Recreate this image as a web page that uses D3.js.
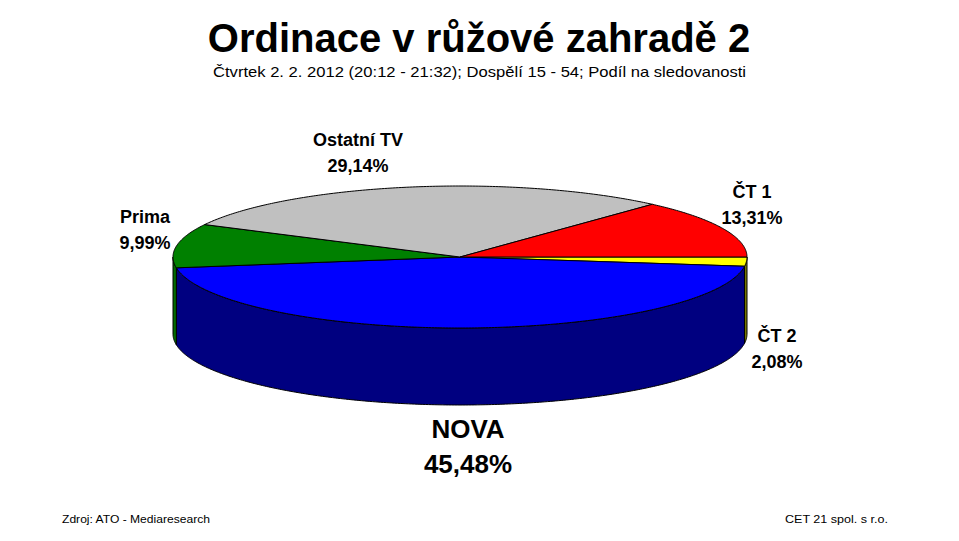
<!DOCTYPE html>
<html>
<head>
<meta charset="utf-8">
<script src="https://cdn.jsdelivr.net/npm/d3@7"></script>
<style>
  body { margin: 0; background: #fff; }
  text { font-family: "Liberation Sans", Arial, sans-serif; fill: #000; }
</style>
</head>
<body>
<div id="canvas"></div>
<script>
// data
const channels = ["ČT 2", "NOVA", "Prima", "Ostatní TV", "ČT 1"];
const shares = [2.08, 45.48, 9.99, 29.14, 13.31];
const shareLabels = ["2,08%", "45,48%", "9,99%", "29,14%", "13,31%"];

const title = "Ordinace v růžové zahradě 2";
const subtitle = "Čtvrtek 2. 2. 2012 (20:12 - 21:32); Dospělí 15 - 54; Podíl na sledovanosti";
const source = "Zdroj: ATO - Mediaresearch";
const owner = "CET 21 spol. s r.o.";

const width = 959;
const height = 541;

// pie geometry (ellipse = tilted circle)
const cx = 460, cy = 257, rx = 287, ry = 71, depth = 77;

const topColor = d3.scaleOrdinal()
    .domain(channels)
    .range(["#ffff00", "#0000ff", "#008000", "#c0c0c0", "#ff0000"]);
const sideColor = d3.scaleOrdinal()
    .domain(channels)
    .range(["#808000", "#000080", "#006a00", "#808080", "#800000"]);

// label anchors (text centre x, first baseline y, font size, line gap)
const labelAt = {
    "ČT 2": [777, 342, 18, 26],
    "NOVA": [468, 438, 26, 35],
    "Prima": [145, 223, 18, 26],
    "Ostatní TV": [358, 146, 18, 26],
    "ČT 1": [752, 198, 18, 26]
};

const svg = d3.select("#canvas").append("svg")
    .attr("width", width)
    .attr("height", height);

const data = channels.map((c, i) => ({ name: c, value: shares[i], label: shareLabels[i] }));

// start at 3 o'clock, go clockwise
const pie = d3.pie()
    .sort(null)
    .value(d => d.value)
    .startAngle(Math.PI / 2)
    .endAngle(Math.PI / 2 + 2 * Math.PI);
const arcs = pie(data);

const px = t => cx + rx * Math.cos(t);
const py = t => cy + ry * Math.sin(t);

function angles(t0, t1) {
    const step = 0.01;
    const a = d3.range(t0, t1, step);
    a.push(t1);
    return a;
}

const line = d3.line();

function topPath(d) {
    const t0 = d.startAngle - Math.PI / 2, t1 = d.endAngle - Math.PI / 2;
    const pts = [[cx, cy]].concat(angles(t0, t1).map(t => [px(t), py(t)]));
    return line(pts) + "Z";
}

// visible front wall: screen angles between 0 and PI (mod 2PI)
function sidePath(d) {
    let t0 = d.startAngle - Math.PI / 2, t1 = d.endAngle - Math.PI / 2;
    const parts = [];
    [[0, Math.PI], [2 * Math.PI, 3 * Math.PI]].forEach(([lo, hi]) => {
        const a = Math.max(t0, lo), b = Math.min(t1, hi);
        if (b > a) {
            const top = angles(a, b).map(t => [px(t), py(t)]);
            const bot = angles(a, b).reverse().map(t => [px(t), py(t) + depth]);
            parts.push(line(top.concat(bot)) + "Z");
        }
    });
    return parts.join("");
}

const g = svg.append("g");

g.selectAll("path.side")
    .data(arcs)
    .enter().append("path")
    .attr("class", "side")
    .attr("d", sidePath)
    .attr("fill", d => sideColor(d.data.name))
    .attr("stroke", "#000")
    .attr("stroke-width", 1)
    .attr("stroke-linejoin", "round");

g.selectAll("path.top")
    .data(arcs)
    .enter().append("path")
    .attr("class", "top")
    .attr("d", topPath)
    .attr("fill", d => topColor(d.data.name))
    .attr("stroke", "#000")
    .attr("stroke-width", 1)
    .attr("stroke-linejoin", "round");

// labels
const labels = svg.selectAll("g.label")
    .data(arcs)
    .enter().append("g")
    .attr("class", "label")
    .attr("transform", d => `translate(${labelAt[d.data.name][0]},${labelAt[d.data.name][1]})`);

labels.append("text")
    .attr("text-anchor", "middle")
    .style("font-weight", "bold")
    .style("font-size", d => labelAt[d.data.name][2] + "px")
    .text(d => d.data.name);

labels.append("text")
    .attr("text-anchor", "middle")
    .attr("y", d => labelAt[d.data.name][3])
    .style("font-weight", "bold")
    .style("font-size", d => labelAt[d.data.name][2] + "px")
    .text(d => d.data.label);

// titles
svg.append("text")
    .attr("x", 479)
    .attr("y", 52)
    .attr("text-anchor", "middle")
    .style("font-weight", "bold")
    .style("font-size", "40px")
    .text(title);

svg.append("text")
    .attr("x", 213)
    .attr("y", 77)
    .attr("textLength", 533)
    .attr("lengthAdjust", "spacingAndGlyphs")
    .style("font-size", "15px")
    .text(subtitle);

svg.append("text")
    .attr("x", 62)
    .attr("y", 523)
    .attr("textLength", 148)
    .attr("lengthAdjust", "spacingAndGlyphs")
    .style("font-size", "11px")
    .text(source);

svg.append("text")
    .attr("x", 785)
    .attr("y", 523)
    .attr("textLength", 103)
    .attr("lengthAdjust", "spacingAndGlyphs")
    .style("font-size", "11px")
    .text(owner);
</script>
</body>
</html>
